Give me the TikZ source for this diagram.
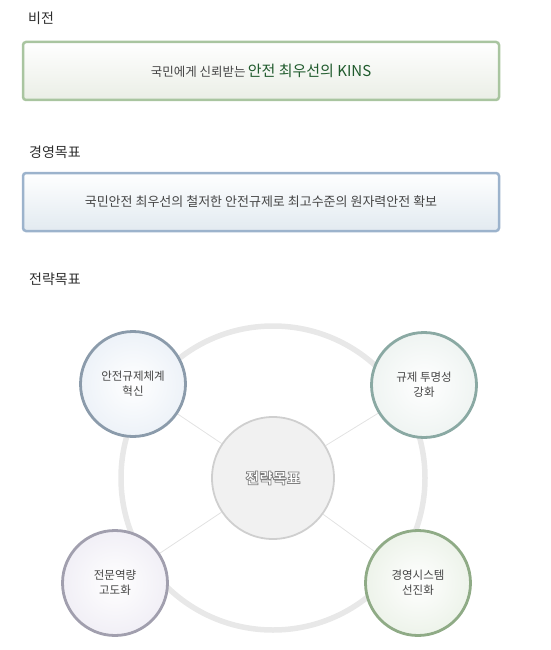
\documentclass[tikz,border=0pt]{standalone}
\usepackage{fontspec}
\setmainfont{Noto Sans CJK KR}
\definecolor{HeadGray}{HTML}{2e2e2e}
\definecolor{TextGray}{HTML}{454545}
\definecolor{KinsGreen}{HTML}{1f5a2c}
\definecolor{VisionLine}{HTML}{a9c5a0}
\definecolor{VisionFill}{HTML}{eaeee6}
\definecolor{GoalLine}{HTML}{9cb3cc}
\definecolor{GoalFill}{HTML}{e2eaf0}
\definecolor{RingGray}{HTML}{e8e8e8}
\definecolor{LinkGray}{HTML}{e2e2e2}
\definecolor{CoreFill}{HTML}{f1f1f1}
\definecolor{CoreLine}{HTML}{cfcfcf}
\definecolor{ReformLine}{HTML}{8b9bab}
\definecolor{ReformFill}{HTML}{edf2f8}
\definecolor{OpenLine}{HTML}{8aa9a3}
\definecolor{OpenFill}{HTML}{eff4f2}
\definecolor{SkillLine}{HTML}{a19fae}
\definecolor{SkillFill}{HTML}{f1eff6}
\definecolor{MgmtLine}{HTML}{8fab86}
\definecolor{MgmtFill}{HTML}{edf3ea}
\usetikzlibrary{positioning,backgrounds}
% white letters with a grey rim
\newcommand{\rimtext}[1]{\special{pdf:literal direct 0.5 0.5 0.5 RG 0.75 w 1 j 2 Tr}#1\special{pdf:literal direct 0 Tr}}

\begin{document}
\begin{tikzpicture}[x=1pt,y=-1pt,
    heading/.style={anchor=west,inner sep=0pt,text=HeadGray,
                    font=\fontsize{14}{16}\selectfont},
    banner/.style 2 args={draw=#1,line width=2.5pt,rounded corners=3pt,
                          top color=white,bottom color=#2,
                          minimum width=476pt,minimum height=58pt,inner sep=0pt,
                          text=TextGray},
    goalball/.style 2 args={circle,draw=#1,line width=2.8pt,
                            inner color=white,outer color=#2,
                            minimum size=105pt,inner sep=0pt,align=center,
                            text=TextGray,font=\fontsize{11.5}{15}\selectfont},
    coretitle/.style={inner sep=0pt,text=white,font=\fontsize{15}{16}\selectfont\bfseries},
    link/.style={draw=LinkGray,line width=0.8pt}]
  \useasboundingbox (0,0) rectangle (550,650);

  % vision
  \node[banner={VisionLine}{VisionFill}] (vision) at (261,71) {
    {\fontsize{12.5}{15}\selectfont 국민에게 신뢰받는}
    {\color{KinsGreen}\fontsize{15}{18}\selectfont 안전 최우선의 KINS}
  };
  \node[heading] (visionhead) at (28,18) {비전};

  % management goal
  \node[banner={GoalLine}{GoalFill},font=\fontsize{13}{15}\selectfont] (goal) at (261,202)
    {국민안전 최우선의 철저한 안전규제로 최고수준의 원자력안전 확보};
  \node[heading] (goalhead) at (29,152) {경영목표};

  % strategic goals
  \node[heading] (stratehead) at (29,279) {전략목표};
  \node[circle,draw=RingGray,line width=5.5pt,minimum size=304pt] (ring) at (273,478) {};
  \node[circle,draw=CoreLine,fill=CoreFill,line width=1.8pt,minimum size=122pt] (core) at (273,478) {};
  \node[coretitle] (coretext) at (core) {\rimtext{전략목표}};

  \node[goalball={ReformLine}{ReformFill}] (reform) at (133,384) {안전규제체계\\혁신};
  \node[goalball={OpenLine}{OpenFill}] (open) at (424,385) {규제 투명성\\강화};
  \node[goalball={SkillLine}{SkillFill}] (skill) at (115,583) {전문역량\\고도화};
  \node[goalball={MgmtLine}{MgmtFill}] (mgmt) at (418,583) {경영시스템\\선진화};

  \begin{scope}[on background layer]
    \foreach \sat in {reform,open,skill,mgmt}
      \draw[link] (core) -- (\sat);
  \end{scope}
\end{tikzpicture}
\end{document}
